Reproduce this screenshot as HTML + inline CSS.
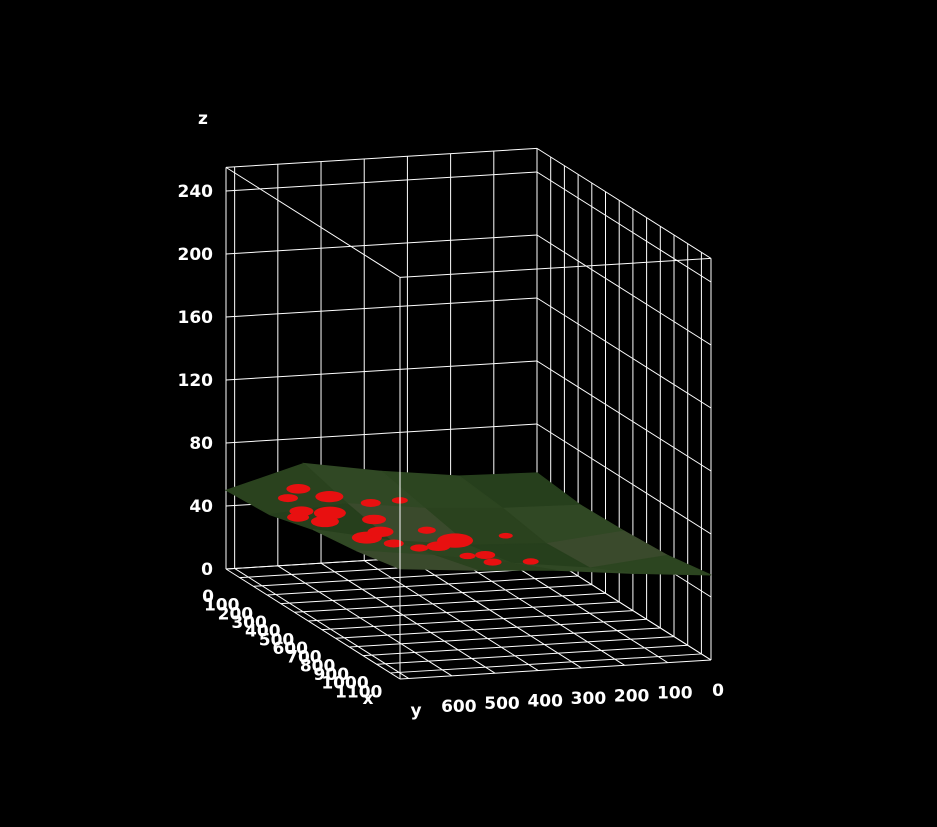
<!DOCTYPE html>
<html><head><meta charset="utf-8"><style>
html,body{margin:0;padding:0;background:#000;}
svg{display:block}
text{font-family:"DejaVu Sans","Liberation Sans",sans-serif;font-weight:bold;fill:#fff;font-size:17px}
</style></head><body>
<svg id="chart" width="937" height="827" viewBox="0 0 937 827">
<rect width="937" height="827" fill="#000"/>
<g id="grid"></g>
<g id="surf"></g>
<g id="edges"></g>
<g id="labels"></g>
</svg>
<script>
const xTicks=[0,100,200,300,400,500,600,700,800,900,1000,1100,1200];
const xTickLabels=["0","100","200","300","400","500","600","700","800","900","1000","1100"];
const yTicks=[0,100,200,300,400,500,600,700];
const yTickLabels=["0","100","200","300","400","500","600"];
const zTicks=[0,40,80,120,160,200,240];
const zTickLabels=["0","40","80","120","160","200","240"];
const surfX=[0,318,635,953,1270];
const surfY=[0,180,360,540,720];
const heights=[
 [49,50,56,64,50],
 [46,47,50,56,52],
 [47,42,44,50,60],
 [49,44,50,58,64],
 [54,58,63,66,70]
];
const blobX=[250,300,380,450,520,600,700,820,900,400,650,780,200,560,330,470,720,880,150,260,1000,560];
const blobY=[560,480,600,520,420,380,450,380,300,680,600,520,640,250,650,640,560,440,600,400,420,540];
const blobR=[14,10,16,12,9,18,12,10,8,11,15,9,10,7,12,14,10,8,12,8,9,13];
const XMAX=1270,YMAX=720,ZMAX=255;
const O=[537,550];
function P(x,y,z){return [O[0]+x/XMAX*174+y/YMAX*(-311), O[1]+x/XMAX*110+y/YMAX*19 - z*1.575];}
const NS='http://www.w3.org/2000/svg';
function line(g,a,b,name){const l=document.createElementNS(NS,'line');
l.setAttribute('x1',a[0]);l.setAttribute('y1',a[1]);l.setAttribute('x2',b[0]);l.setAttribute('y2',b[1]);
l.setAttribute('stroke','#fff');l.setAttribute('stroke-width','1');


g.appendChild(l);}
function txt(g,s,p,anchor,name){const t=document.createElementNS(NS,'text');
t.setAttribute('x',p[0]);t.setAttribute('y',p[1]);t.setAttribute('text-anchor',anchor);t.textContent=s;


g.appendChild(t);}
const grid=document.getElementById('grid');
yTicks.forEach(v=>line(grid,P(0,v,0),P(0,v,ZMAX),'left-wall-gridline'));
zTicks.forEach(v=>line(grid,P(0,0,v),P(0,YMAX,v),'left-wall-gridline'));
xTicks.forEach(v=>line(grid,P(v,0,0),P(v,0,ZMAX),'right-wall-gridline'));
zTicks.forEach(v=>line(grid,P(0,0,v),P(XMAX,0,v),'right-wall-gridline'));
xTicks.forEach(v=>line(grid,P(v,0,0),P(v,YMAX,0),'floor-gridline'));
yTicks.forEach(v=>line(grid,P(0,v,0),P(XMAX,v,0),'floor-gridline'));
[[P(0,0,ZMAX),P(0,YMAX,ZMAX)],[P(0,0,ZMAX),P(XMAX,0,ZMAX)],[P(0,YMAX,0),P(0,YMAX,ZMAX)],[P(XMAX,0,0),P(XMAX,0,ZMAX)],[P(0,YMAX,0),P(XMAX,YMAX,0)],[P(XMAX,0,0),P(XMAX,YMAX,0)]].forEach(e=>line(grid,e[0],e[1],'box-edge'));
const surf=document.getElementById('surf');
const quads=[];
for(let i=0;i<surfX.length-1;i++)for(let j=0;j<surfY.length-1;j++)quads.push([i,j]);
quads.sort((a,b)=>(a[0]+a[1])-(b[0]+b[1]));
const shades=['#263f1c','#2c4520','#304824','#2a421e','#3a4a2c'];
quads.forEach(([i,j])=>{
 const pts=[P(surfX[i],surfY[j],heights[i][j]),P(surfX[i+1],surfY[j],heights[i+1][j]),P(surfX[i+1],surfY[j+1],heights[i+1][j+1]),P(surfX[i],surfY[j+1],heights[i][j+1])];
 const pg=document.createElementNS(NS,'polygon');
 const c=shades[(i*2+j)%shades.length];
 pg.setAttribute('points',pts.map(p=>p.join(',')).join(' '));
 pg.setAttribute('fill',c);
 pg.setAttribute('stroke',c);
 pg.setAttribute('stroke-width','1');
 
 
 surf.appendChild(pg);
});
function hAt(x,y){const fi=Math.min(x/XMAX*4,3.999),fj=Math.min(y/YMAX*4,3.999);const i=Math.floor(fi),j=Math.floor(fj),u=fi-i,v=fj-j;
 return heights[i][j]*(1-u)*(1-v)+heights[i+1][j]*u*(1-v)+heights[i][j+1]*(1-u)*v+heights[i+1][j+1]*u*v;}
blobX.forEach((bx,k)=>{const by=blobY[k];const p=P(bx,by,hAt(bx,by));
 const e=document.createElementNS(NS,'ellipse');
 e.setAttribute('cx',p[0]);e.setAttribute('cy',p[1]);e.setAttribute('rx',blobR[k]);e.setAttribute('ry',blobR[k]*0.4);
 e.setAttribute('fill','#e81010');
 
 
 surf.appendChild(e);});
const ed=document.getElementById('edges');
line(ed,P(XMAX,YMAX,0),P(XMAX,YMAX,ZMAX),'front-vertical-edge');
line(ed,P(0,YMAX,ZMAX),P(XMAX,YMAX,ZMAX),'top-left-edge');
line(ed,P(XMAX,0,ZMAX),P(XMAX,0,ZMAX),'top-right-edge');
line(ed,P(XMAX,0,ZMAX),P(XMAX,YMAX,ZMAX),'top-right-edge');
const lb=document.getElementById('labels');
zTickLabels.forEach((s,k)=>{const p=P(0,YMAX,zTicks[k]);txt(lb,s,[213,p[1]+6],'end','z-tick-label');});
xTickLabels.forEach((s,k)=>{const p=P(xTicks[k],YMAX,0);txt(lb,s,[p[0]-18,p[1]+33],'middle','x-tick-label');});
yTickLabels.forEach((s,k)=>{const p=P(XMAX,yTicks[k],0);txt(lb,s,[p[0]+7,p[1]+36],'middle','y-tick-label');});
txt(lb,'z',[203,124],'middle','z-axis-title');
txt(lb,'x',[368,704],'middle','x-axis-title');
txt(lb,'y',[416,716],'middle','y-axis-title');
</script>
</body></html>
